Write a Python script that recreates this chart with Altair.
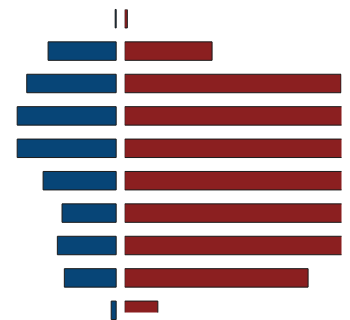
import altair as alt
import pandas as pd

# Row categories (top to bottom)
rows = ["r01", "r02", "r03", "r04", "r05", "r06", "r07", "r08", "r09", "r10"]
# Left (blue) series values
left_values = [0.1, 6.83, 8.97, 9.93, 9.93, 7.33, 5.43, 5.9, 5.2, 0.5]
# Right (red) series values (some run past the visible edge)
right_values = [0.27, 8.77, 21.7, 24.0, 24.5, 22.17, 22.4, 23.2, 18.4, 3.33]

left_df = pd.DataFrame({"row": rows, "value": left_values})
right_df = pd.DataFrame({"row": rows, "value": right_values})

yenc = alt.Y("row:N", sort=rows, axis=None,
             scale=alt.Scale(paddingInner=0.43, paddingOuter=0, range=[0, 311]))

left = alt.Chart(left_df).mark_bar(
    color="#074577", stroke="#1a1a1a", strokeWidth=1
).encode(
    y=yenc,
    x=alt.X("value:Q", axis=None,
            scale=alt.Scale(domain=[0, 10.85], reverse=True, nice=False, zero=True)),
).properties(width=108.5, height=304)

right = alt.Chart(right_df).mark_bar(
    color="#8b1f20", stroke="#1a1a1a", strokeWidth=1, clip=True
).encode(
    y=yenc,
    x=alt.X("value:Q", axis=None,
            scale=alt.Scale(domain=[0, 21.75], nice=False, zero=True)),
).properties(width=217.5, height=304)

chart = alt.hconcat(left, right, spacing=8).properties(
    padding=0
).configure_view(stroke=None).configure_concat(spacing=8)

chart.save("out.html", embed_options={"renderer": "svg", "actions": False})
